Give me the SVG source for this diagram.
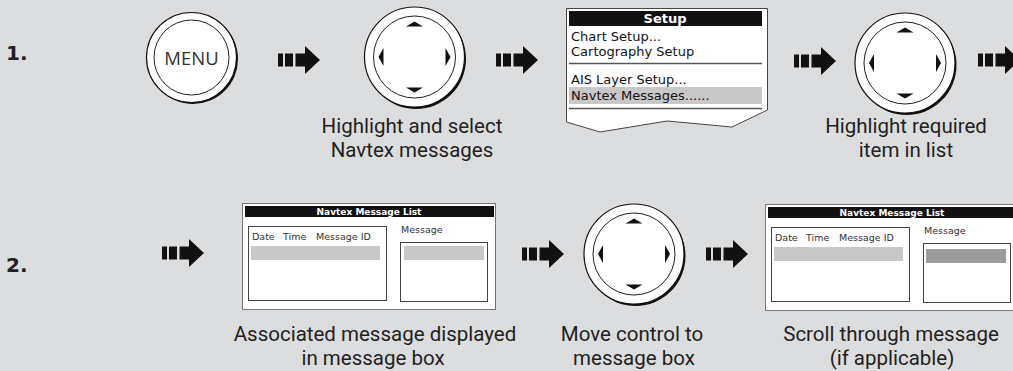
<svg xmlns="http://www.w3.org/2000/svg" xmlns:xlink="http://www.w3.org/1999/xlink" width="1013" height="371" viewBox="0 0 1013 371">
<style>
.num{font-family:"DejaVu Sans",sans-serif;font-weight:bold;font-size:20px;fill:#231f20}
.lbl{font-family:Roboto,"Open Sans",sans-serif;font-size:20.5px;fill:#231f20;text-anchor:middle}
.menu{font-family:"Open Sans",sans-serif;font-size:18.5px;fill:#333;text-anchor:middle}
.mtxt{font-family:"DejaVu Sans",sans-serif;font-size:13px;fill:#111}
.mtitle{font-family:"DejaVu Sans",sans-serif;font-weight:bold;font-size:13px;fill:#fff;text-anchor:middle}
.stitle{font-family:"DejaVu Sans",sans-serif;font-weight:bold;font-size:9px;fill:#fff;text-anchor:middle}
.stxt{font-family:"DejaVu Sans",sans-serif;font-size:9.5px;fill:#333}
.ring{fill:#fff;stroke:#111;stroke-width:1.2}
.shadow{fill:#111}
.inner{fill:none;stroke:#222;stroke-width:1}
.tri{fill:#111}
.arrow{fill:#111}
.scr{fill:#fff;stroke:#777;stroke-width:1}
.box{fill:#fff;stroke:#444;stroke-width:1}
.hl{fill:#c8c8c8}
.hl2{fill:#9b9b9b}
.sep{stroke:#555;stroke-width:1.5}
</style>
<defs>
<g id="arr" class="arrow">
<rect x="0" y="-6.5" width="5" height="13"/>
<rect x="7" y="-6.5" width="8" height="13"/>
<path d="M17.5,-6.5 H27 V-14 L42,0 L27,14 V6.5 H17.5 Z"/>
</g>
<g id="dial">
<circle class="shadow" cx="1.5" cy="2" r="50"/>
<circle class="ring" cx="0" cy="0" r="50"/>
<circle class="inner" cx="0" cy="0" r="41"/>
<path class="tri" d="M-8.5,-30.5 L0,-35.5 L8.5,-30.5 Z"/>
<path class="tri" d="M-8.5,30.5 L0,35.5 L8.5,30.5 Z"/>
<path class="tri" d="M-31,-9 L-36,0 L-31,9 Z"/>
<path class="tri" d="M31,-9 L36,0 L31,9 Z"/>
</g>
<g id="screen">
<rect class="scr" x="0.5" y="0.5" width="253" height="106"/>
<rect x="3" y="3" width="249" height="11" fill="#111"/>
<text class="stitle" x="127" y="12">Navtex Message List</text>
<rect class="box" x="6.5" y="23.5" width="138" height="74"/>
<text class="stxt" x="10" y="37">Date</text>
<text class="stxt" x="41" y="37">Time</text>
<text class="stxt" x="74" y="37">Message ID</text>
<rect class="hl" x="9" y="43" width="129" height="14"/>
<text class="stxt" x="159" y="30">Message</text>
<rect class="box" x="158.5" y="39.5" width="87" height="59"/>
</g>
</defs>
<rect x="0" y="0" width="1013" height="371" fill="#dcdddf"/>

<g id="step1-label"><text class="num" x="6" y="60">1.</text></g>
<g id="step2-label"><text class="num" x="6" y="272">2.</text></g>

<g id="menu-button">
<circle class="shadow" cx="193" cy="59" r="45"/>
<circle class="ring" cx="191.5" cy="57.5" r="45"/>
<circle class="inner" cx="191.5" cy="57.5" r="37.5"/>
<text class="menu" x="191.5" y="64.5">MENU</text>
</g>

<g id="dial-1">
<use xlink:href="#dial" transform="translate(414.5,57)"/>
<text class="lbl" x="412" y="133">Highlight and select</text>
<text class="lbl" x="412" y="157">Navtex messages</text>
</g>

<g id="setup-menu">
<path d="M566.5,8.5 H767.5 V110 L732,127 L667,121 L600,132 L566.5,122 Z" fill="#fff" stroke="#444" stroke-width="1"/>
<rect x="569" y="11" width="193" height="15" fill="#111"/>
<text class="mtitle" x="665" y="23">Setup</text>
<text class="mtxt" x="571" y="41">Chart Setup...</text>
<text class="mtxt" x="571" y="56">Cartography Setup</text>
<line class="sep" x1="569" y1="63.5" x2="762" y2="63.5"/>
<text class="mtxt" x="571" y="84">AIS Layer Setup...</text>
<rect class="hl" x="569" y="87" width="193" height="17"/>
<text class="mtxt" x="571" y="100">Navtex Messages......</text>
<line class="sep" x1="569" y1="108.5" x2="762" y2="108.5"/>
</g>

<g id="dial-2">
<use xlink:href="#dial" transform="translate(905,63)"/>
<text class="lbl" x="906" y="133">Highlight required</text>
<text class="lbl" x="906" y="157">item in list</text>
</g>

<g id="screen-1">
<use xlink:href="#screen" transform="translate(242,203)"/>
<rect class="hl" x="404" y="246" width="80" height="14"/>
<text class="lbl" x="375" y="341">Associated message displayed</text>
<text class="lbl" x="373" y="365">in message box</text>
</g>

<g id="dial-3">
<use xlink:href="#dial" transform="translate(634,254)"/>
<text class="lbl" x="632" y="341">Move control to</text>
<text class="lbl" x="634" y="365">message box</text>
</g>

<g id="screen-2">
<use xlink:href="#screen" transform="translate(765,204)"/>
<rect class="hl2" x="926" y="249" width="80" height="14"/>
<text class="lbl" x="891" y="341">Scroll through message</text>
<text class="lbl" x="892" y="365">(if applicable)</text>
</g>

<g id="connectors">
<use xlink:href="#arr" transform="translate(278,60)"/>
<use xlink:href="#arr" transform="translate(496,60)"/>
<use xlink:href="#arr" transform="translate(794,61)"/>
<use xlink:href="#arr" transform="translate(978,60)"/>
<use xlink:href="#arr" transform="translate(162,253)"/>
<use xlink:href="#arr" transform="translate(522,254)"/>
<use xlink:href="#arr" transform="translate(706,254)"/>
</g>
</svg>
